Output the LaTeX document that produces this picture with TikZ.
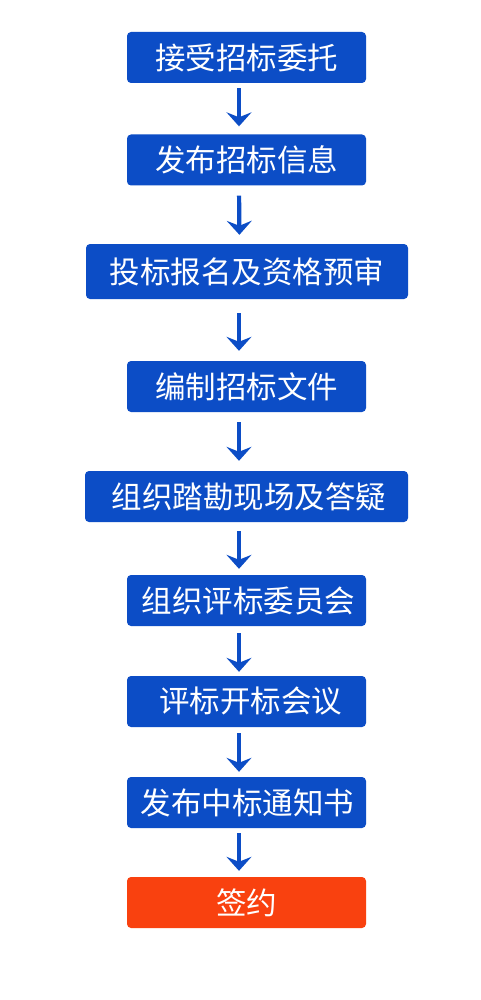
\documentclass[tikz,border=0pt]{standalone}
\usepackage{fontspec}
\newfontfamily\cjk{Noto Sans CJK SC}
\usetikzlibrary{arrows.meta}
\definecolor{boxblue}{HTML}{0C4DC6}
\definecolor{boxred}{HTML}{F9410F}
\tikzset{
  stepbox/.style={draw=none,fill=boxblue,rounded corners=4pt,text=white,
    font=\cjk\fontsize{30.5pt}{32pt}\selectfont,minimum width=239pt,minimum height=51pt,
    inner sep=0pt,anchor=center},
  arr/.style={draw=boxblue,line width=4.2pt,
    -{Stealth[width=25pt,length=14pt,inset=5pt]}},
}
\begin{document}
\begin{tikzpicture}[x=1pt,y=-1pt]
\useasboundingbox[fill=white] (0,0) rectangle (480,1000);
\node[stepbox] (b1) at (246.5,57.5) {接受招标委托};
\node[stepbox] (b2) at (246.5,160) {发布招标信息};
\node[stepbox,minimum width=322pt,minimum height=55pt] (b3) at (247,271.5) {投标报名及资格预审};
\node[stepbox,minimum width=323pt] (b5) at (246.5,496.5) {\hspace*{5pt}组织踏勘现场及答疑};
\node[stepbox] (b4) at (246.5,386.5) {编制招标文件};
\node[stepbox] (b6) at (246.5,600.5) {\hspace*{4pt}组织评标委员会};
\node[stepbox] (b7) at (246.5,701.5) {\hspace*{8pt}评标开标会议};
\node[stepbox] (b8) at (246.5,802.5) {\hspace*{2pt}发布中标通知书};
\node[stepbox,fill=boxred] (b9) at (246.5,902.5) {签约};
\draw[arr,shorten <=5pt,shorten >=8pt] ([xshift=-7.5pt]b1.south) -- ([xshift=-7.5pt]b2.north);
\draw[arr,shorten <=10pt,shorten >=9pt] ([xshift=-7.5pt]b2.south) -- ([xshift=-7.5pt]b3.north);
\draw[arr,shorten <=14pt,shorten >=10pt] ([xshift=-8pt]b3.south) -- ([xshift=-7.5pt]b4.north);
\draw[arr,shorten <=10pt,shorten >=10pt] ([xshift=-7.5pt]b4.south) -- ([xshift=-7.5pt]b5.north);
\draw[arr,shorten <=9pt,shorten >=6pt] ([xshift=-7.5pt]b5.south) -- ([xshift=-7.5pt]b6.north);
\draw[arr,shorten <=7pt,shorten >=4pt] ([xshift=-7.5pt]b6.south) -- ([xshift=-7.5pt]b7.north);
\draw[arr,shorten <=6pt,shorten >=5pt] ([xshift=-7.5pt]b7.south) -- ([xshift=-7.5pt]b8.north);
\draw[arr,shorten <=5pt,shorten >=6pt] ([xshift=-7.5pt]b8.south) -- ([xshift=-7.5pt]b9.north);
\end{tikzpicture}
\end{document}
